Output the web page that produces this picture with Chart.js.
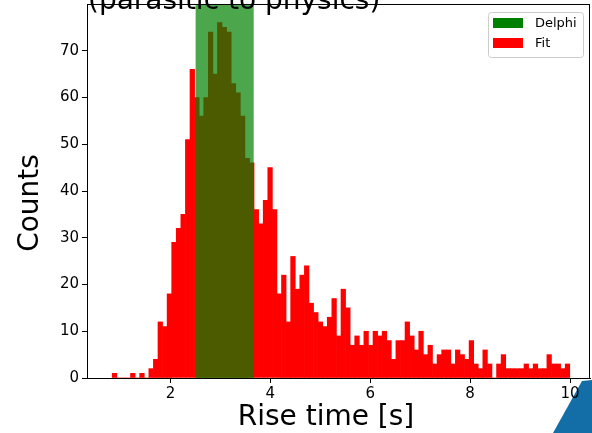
<!DOCTYPE html>
<html>
<head>
<meta charset="utf-8">
<script src="https://cdn.jsdelivr.net/npm/chart.js@4.4.0/dist/chart.umd.min.js"></script>
<style>
  html, body { margin:0; padding:0; background:#fff; }
  #wrap { position:relative; width:592px; height:433px; overflow:hidden; }
  #corner { position:absolute; left:0; top:0; width:592px; height:433px; background:#136ea8;
            clip-path: polygon(553px 433px, 582px 381px, 592px 380px, 592px 433px); }
  #myChart { position:absolute; left:0; top:0; }
</style>
</head>
<body>
<div id="wrap">
  <div id="corner"></div>
  <canvas id="myChart" width="592" height="433"></canvas>
</div>
<script>
// histograma: 100 bins desde binStart con ancho binWidth
const binStart = 0.835
const binWidth = 0.0916
const fitCounts = [
  1, 0, 0, 0, 1, 0, 1, 0, 2, 4,
  12, 11, 18, 29, 32, 35, 51, 66, 60, 56,
  60, 74, 65, 76, 75, 74, 63, 61, 56, 47,
  46, 36, 33, 38, 45, 36, 18, 22, 12, 26,
  19, 22, 24, 16, 14, 12, 11, 13, 17, 9,
  19, 15, 7, 9, 7, 10, 7, 10, 9, 10,
  8, 4, 8, 8, 12, 9, 6, 10, 5, 7,
  3, 5, 6, 6, 3, 6, 5, 4, 8, 3,
  2, 6, 3, 0, 3, 5, 2, 2, 2, 2,
  3, 2, 3, 2, 2, 5, 3, 3, 2, 3
]
// zona Delphi (axvspan)
const delphiSpan = [2.5, 3.67]
const xTicks = [2, 4, 6, 8, 10]
const yTicks = [0, 10, 20, 30, 40, 50, 60, 70]
const xRange = [0.33, 10.40]
const yMax = 80
const titulo = "(parasitic to physics)"
const etiquetaX = "Rise time [s]"
const etiquetaY = "Counts"

const fitData = fitCounts.map((c, i) => ({ x: binStart + (i + 0.5) * binWidth, y: c }))
const delphiData = delphiSpan.map(v => ({ x: v, y: yMax }))

const fuente = "'DejaVu Sans', sans-serif"

// marco completo tipo matplotlib + titulo cortado arriba + etiquetas de ejes
const marco = {
  id: 'marco',
  afterDraw(chart) {
    const { ctx, chartArea: a } = chart
    ctx.save()
    ctx.strokeStyle = '#000'
    ctx.lineWidth = 1
    ctx.strokeRect(Math.round(a.left) + 0.5, Math.round(a.top) + 0.5,
                   Math.round(a.right - a.left) - 1, Math.round(a.bottom - a.top))
    ctx.fillStyle = '#000'
    ctx.font = "28px " + fuente
    ctx.textAlign = 'left'
    ctx.textBaseline = 'alphabetic'
    ctx.fillText(titulo, 88, 9)
    // etiquetas (un poco corridas como en la figura original)
    ctx.textAlign = 'center'
    ctx.textBaseline = 'middle'
    ctx.fillText(etiquetaX, 326, 418)
    ctx.translate(31, 203)
    ctx.rotate(-Math.PI / 2)
    ctx.fillText(etiquetaY, 0, 0)
    ctx.restore()
  }
}

// leyenda dentro del area, arriba a la derecha
const leyenda = {
  id: 'leyenda',
  afterDraw(chart) {
    const ctx = chart.ctx
    const sets = chart.data.datasets
    const x0 = 488, y0 = 12, w = 95, h = 45
    ctx.save()
    ctx.fillStyle = 'rgba(255,255,255,0.8)'
    ctx.strokeStyle = '#cccccc'
    ctx.lineWidth = 1
    ctx.beginPath()
    ctx.roundRect(x0 + 0.5, y0 + 0.5, w, h, 3)
    ctx.fill()
    ctx.stroke()
    ctx.font = "13px " + fuente
    ctx.textBaseline = 'middle'
    sets.forEach((ds, i) => {
      const yy = y0 + 11 + i * 20
      ctx.fillStyle = ds.legendColor
      ctx.fillRect(x0 + 5, yy - 5, 30, 10)
      ctx.fillStyle = '#000'
      ctx.fillText(ds.label, x0 + 47, yy + 1)
    })
    ctx.restore()
  }
}

const config = {
  type: 'bar',
  data: {
    datasets: [
      {
        type: 'line',
        label: 'Delphi',
        data: delphiData,
        backgroundColor: 'rgba(0,128,0,0.7)',
        legendColor: '#008000',
        borderWidth: 0,
        pointRadius: 0,
        fill: 'origin'
      },
      {
        label: 'Fit',
        data: fitData,
        backgroundColor: '#ff0000',
        legendColor: '#ff0000',
        borderWidth: 0,
        barPercentage: 1,
        categoryPercentage: 1
      }
    ]
  },
  options: {
    responsive: false,
    animation: false,
    devicePixelRatio: 1,
    layout: { padding: { top: 4, right: 2, left: 0, bottom: 0 } },
    plugins: { legend: { display: false }, tooltip: { enabled: false } },
    scales: {
      x: {
        type: 'linear',
        min: xRange[0],
        max: xRange[1],
        offset: false,
        afterBuildTicks: s => { s.ticks = xTicks.map(v => ({ value: v })) },
        afterFit: s => { s.height = 55; s.paddingLeft = 0; s.paddingRight = 0 },
        grid: { display: true, drawOnChartArea: false, drawTicks: true, tickLength: 5, color: '#000', offset: false },
        border: { display: true, color: '#000', width: 1 },
        ticks: { color: '#000', padding: 2, maxRotation: 0, font: { size: 15, family: fuente } }
      },
      y: {
        min: 0,
        max: yMax,
        afterBuildTicks: s => { s.ticks = yTicks.map(v => ({ value: v })) },
        afterFit: s => { s.width = 87; s.paddingTop = 0; s.paddingBottom = 0 },
        grid: { display: true, drawOnChartArea: false, drawTicks: true, tickLength: 5, color: '#000' },
        border: { display: true, color: '#000', width: 1 },
        ticks: { color: '#000', padding: 3, font: { size: 15, family: fuente } }
      }
    }
  },
  plugins: [marco, leyenda]
}

let myChart = new Chart(document.getElementById('myChart'), config)
</script>
</body>
</html>
